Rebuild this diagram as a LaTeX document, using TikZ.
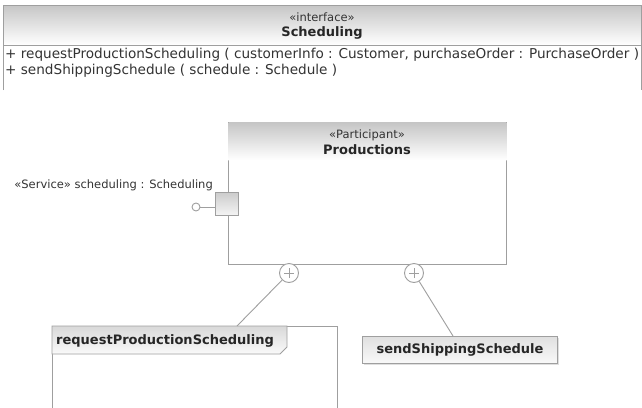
\documentclass[tikz,border=0pt]{standalone}
\usepackage{fontspec}
\setmainfont{DejaVu Sans}
\usetikzlibrary{positioning, calc, shadows}
\tikzset{
x=1pt, y=-1pt, % one unit is one pixel of the drawing
line/.style={draw=gray!75, line width=0.9pt}, % grey UML lines
box/.style={line, rectangle, inner sep=0pt, anchor=north west}, % plain frame
band/.style={top color=gray!45, bottom color=white}, % shaded title band
stereo/.style={font=\fontsize{11.5}{13}\selectfont, text=black!80, inner sep=0pt},
title/.style={font=\bfseries\fontsize{13}{15}\selectfont, text=black!85, inner sep=0pt},
op/.style={font=\fontsize{13.6}{16}\selectfont, text=black!80, anchor=west, inner sep=0pt},
plus/.style={line, circle, minimum size=19pt, inner sep=0pt, fill=white,
  path picture={\draw[gray!75, line width=0.8pt]
    ([xshift=-5pt]path picture bounding box.center) -- ([xshift=5pt]path picture bounding box.center)
    ([yshift=-5pt]path picture bounding box.center) -- ([yshift=5pt]path picture bounding box.center);}},
}

\begin{document}
\begin{tikzpicture}
\useasboundingbox[fill=white] (0,0) rectangle (642,407);

% interface Scheduling
\shade[band] (3,5) rectangle (641,45);
\draw[line] (3,90) |- (641,5) -- (641,90);
\draw[line] (3,45) -- (641,45);
\node[stereo] (ifacestereo) at (322,17) {«interface»};
\node[title, below=5pt of ifacestereo] (ifacename) {Scheduling};
\node[op] (opreq) at (5,55) {+ requestProductionScheduling ( customerInfo : Customer, purchaseOrder : PurchaseOrder )};
\node[op] (opship) at (5,71) {+ sendShippingSchedule ( schedule : Schedule )};

% participant Productions
\node[box, minimum width=278pt, minimum height=142pt] (prod) at (228,122) {};
\shade[band] ($(prod.north west)+(0.5,0.5)$) rectangle ($(prod.north east)+(-0.5,38)$);
\node[stereo] (prodstereo) at (367,135) {«Participant»};
\node[title, below=4pt of prodstereo] (prodname) {Productions};

% service port with its interface
\node[line, minimum size=23pt, inner sep=0pt, top color=gray!40, bottom color=gray!8] (port) at (227,204) {};
\node[line, circle, minimum size=8pt, inner sep=0pt, fill=white] (lolli) at (196,207) {};
\draw[line] (lolli) -- (lolli -| port.west);
\node[stereo, anchor=east] (portlabel) at (213,185) {«Service» scheduling : Scheduling};

% owned behaviours
\node[plus] (plusreq) at (289,273) {};
\node[plus] (plusship) at (414,273) {};

\node[box, minimum width=285pt, minimum height=120pt] (reqframe) at (52,326) {};
\draw[line, top color=gray!30, bottom color=gray!4] (reqframe.north west) -- (287,326) -- (287,347) -- (280,354) -- (52,354) -- cycle;
\node[title, anchor=west] (reqname) at (56,341) {requestProductionScheduling};

\node[line, title, minimum width=195pt, minimum height=27pt, top color=gray!25, bottom color=gray!4,
  drop shadow={opacity=0.25, shadow xshift=1.5pt, shadow yshift=-1.5pt}] (ship) at (460,350) {sendShippingSchedule};

\coordinate (reqjoin) at (237,326);
\coordinate (shipjoin) at (453,336);
\draw[line] (plusreq) -- (reqjoin);
\draw[line] (plusship) -- (shipjoin);
\end{tikzpicture}
\end{document}
